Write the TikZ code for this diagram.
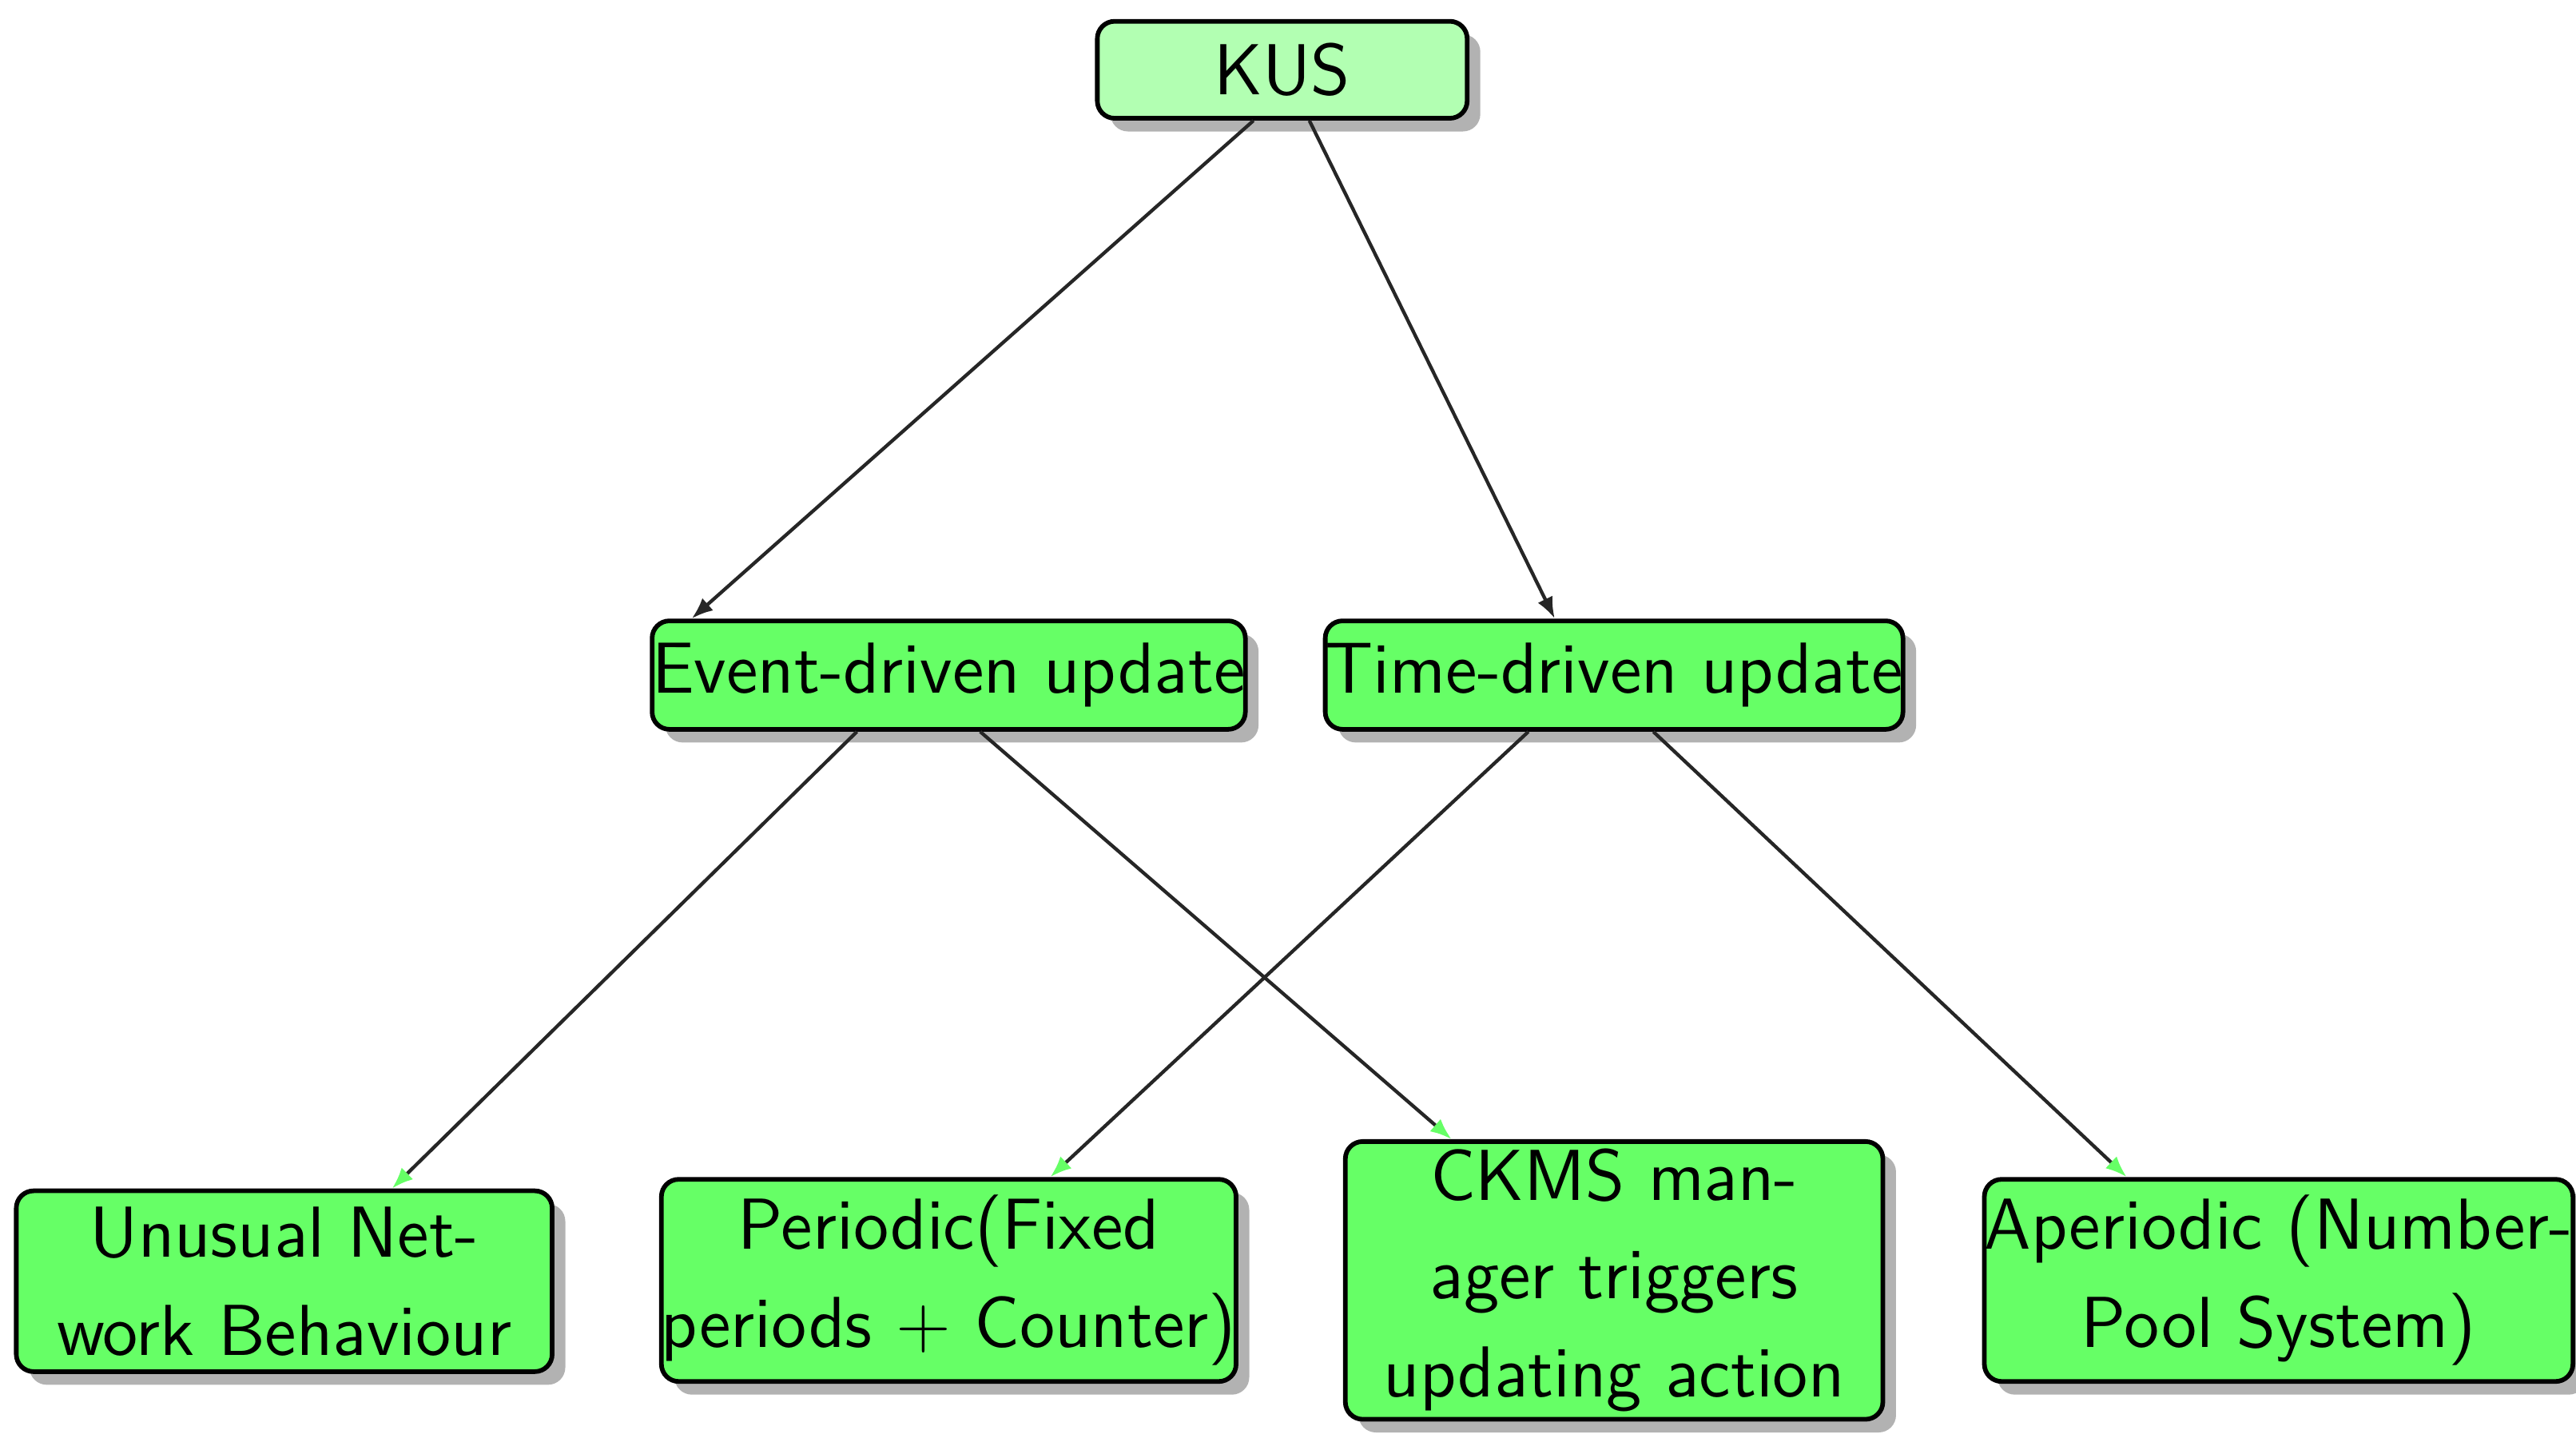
\documentclass[tikz,border=0pt]{standalone}
\usetikzlibrary{shadows,arrows.meta,calc}
\begin{document}
\begin{tikzpicture}[x=0.01cm,y=-0.01cm,
  box/.style={draw=black,line width=0.8pt,rounded corners=3pt,fill=green!60,
    drop shadow={shadow xshift=0.08cm,shadow yshift=-0.08cm,fill=black!30,opacity=1},
    align=center,inner sep=0pt,font=\sffamily\fontsize{12.5}{17}\selectfont},
  e/.style={draw=black!85,line width=0.6pt,-{Latex[length=0.13cm,width=0.1cm]}},
  g/.style={draw=black!85,line width=0.6pt,-{Latex[length=0.13cm,width=0.1cm,color=green!60]}}]
\useasboundingbox (0,0) rectangle (1568,880);
\node[box,fill=green!30,minimum width=2.25cm,minimum height=0.59cm] (k) at (780.5,42.5) {KUS};
\node[box,minimum width=3.27cm,minimum height=0.66cm] (ev) at (577.5,411) {Event-driven update};
\node[box,minimum width=3.27cm,minimum height=0.66cm] (tm) at (982.5,411) {Time-driven update};
\node[box,minimum width=3.26cm,minimum height=1.10cm] (u) at (173,780) {Unusual Net-\\work Behaviour};
\node[box,minimum width=3.27cm,minimum height=1.23cm] (p) at (577.5,779.5) {Periodic(Fixed\\periods + Counter)};
\node[box,minimum width=3.27cm,minimum height=1.69cm] (c) at (982.5,779.5) {CKMS man-\\ager triggers\\updating action};
\node[box,minimum width=3.26cm,minimum height=1.23cm] (a) at (1387,779.5) {Aperiodic (Number-\\Pool System)};
\draw[e] ([xshift=-0.175cm]k.south) -- ([xshift=0.255cm]ev.north west);
\draw[e] ([xshift=0.165cm]k.south) -- ([xshift=1.41cm]tm.north west);
\draw[g] ([xshift=1.26cm]ev.south west) -- ([xshift=2.30cm]u.north west);
\draw[g] ([xshift=2.01cm]ev.south west) -- ([xshift=0.66cm]c.north west);
\draw[g] ([xshift=1.25cm]tm.south west) -- ([xshift=2.38cm]p.north west);
\draw[g] ([xshift=2.01cm]tm.south west) -- ([xshift=0.88cm]a.north west);
\end{tikzpicture}
\end{document}
